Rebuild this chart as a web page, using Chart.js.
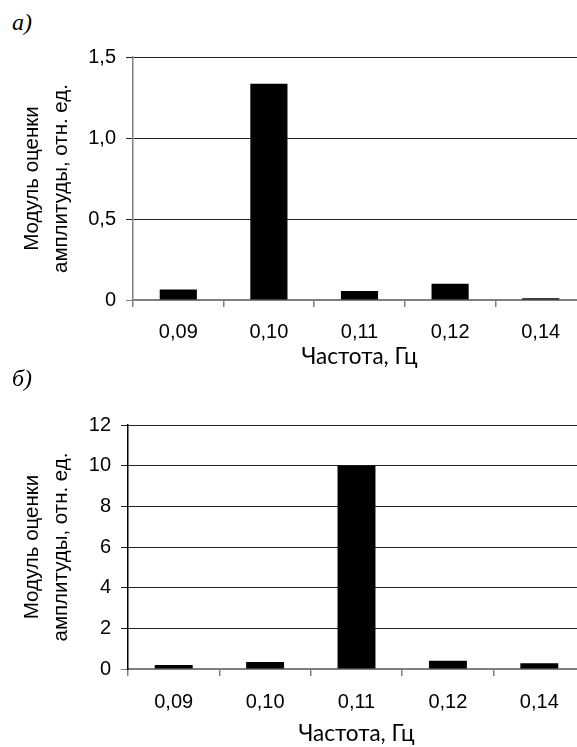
<!DOCTYPE html>
<html lang="ru">
<head>
<meta charset="utf-8">
<title>Модуль оценки амплитуды</title>
<script src="https://cdn.jsdelivr.net/npm/chart.js@4.4.1/dist/chart.umd.min.js"></script>
<style>
  html, body { margin: 0; padding: 0; background: #fff; overflow: hidden; }
  body { width: 577px; height: 747px; position: relative; }
  .panel { position: absolute; left: 0; width: 600px; }
  .tag {
    position: absolute; left: 12px;
    font: italic 24px "Liberation Serif", "DejaVu Serif", serif;
    color: #000;
  }
</style>
</head>
<body>
<div class="tag" style="top: 9px;">а)</div>
<div class="panel" style="top: 0; height: 375px;">
  <canvas id="chartA" width="600" height="375"></canvas>
</div>
<div class="tag" style="top: 365px;">б)</div>
<div class="panel" style="top: 375px; height: 372px;">
  <canvas id="chartB" width="600" height="372"></canvas>
</div>
<script>
// частоты и модуль оценки амплитуды для двух случаев
const freqLabels = ['0,09', '0,10', '0,11', '0,12', '0,14'];
const amplitudeA = [0.065, 1.335, 0.055, 0.10, 0.011];
const amplitudeB = [0.2, 0.34, 10.0, 0.41, 0.28];

const yTitle = ['Модуль оценки', 'амплитуды, отн. ед.'];
const xTitle = 'Частота, Гц';

const GRAY = '#808080';
const DARK = '#222';

const tickFont = { family: '"Liberation Sans", Arial, sans-serif', size: 20 };

const fmtComma = (v) => (v === 0 ? '0' : v.toFixed(1).replace('.', ','));

function makeChart(id, values, cfg) {
  return new Chart(document.getElementById(id), {
    type: 'bar',
    data: {
      labels: freqLabels,
      datasets: [{
        data: values,
        backgroundColor: '#000',
        borderWidth: 0,
        barPercentage: cfg.barPct,
        categoryPercentage: 1
      }]
    },
    options: {
      responsive: false,
      animation: false,
      devicePixelRatio: 1,
      layout: { padding: { top: cfg.padTop, right: cfg.padRight, left: 0, bottom: 0 } },
      plugins: { legend: { display: false }, tooltip: { enabled: false } },
      scales: {
        x: {
          afterFit: (scale) => { scale.height = cfg.xHeight; },
          border: { color: GRAY, width: 1.5 },
          grid: { drawOnChartArea: false, drawTicks: true, tickLength: 7, color: GRAY, lineWidth: 1.5 },
          ticks: { color: '#000', font: tickFont, padding: cfg.xTickPad },
          title: {
            display: true,
            text: xTitle,
            color: '#000',
            font: { family: 'Lato, "Open Sans", sans-serif', size: 22.5 },
            padding: { top: 0, bottom: cfg.xTitlePad }
          }
        },
        y: {
          min: 0,
          max: cfg.max,
          afterFit: (scale) => { scale.width = cfg.yWidth; },
          border: { color: cfg.yAxisColor, width: 1.5 },
          grid: {
            tickLength: 7,
            color: (ctx) => (ctx.tick && ctx.tick.value === 0 ? GRAY : DARK),
            lineWidth: 1
          },
          ticks: {
            stepSize: cfg.step,
            color: '#000',
            font: tickFont,
            padding: 10,
            callback: cfg.fmt
          },
          title: {
            display: true,
            text: yTitle,
            color: '#000',
            font: { family: '"Liberation Sans", Arial, sans-serif', size: 20.5, lineHeight: 1.42 },
            padding: { top: 18, bottom: 0 }
          }
        }
      }
    }
  });
}

makeChart('chartA', amplitudeA, {
  max: 1.5, step: 0.5, fmt: fmtComma,
  barPct: 0.41, padTop: 57, padRight: 14,
  xHeight: 75, yWidth: 133, xTickPad: 13, xTitlePad: 5,
  yAxisColor: GRAY
});

makeChart('chartB', amplitudeB, {
  max: 12, step: 2, fmt: (v) => String(v),
  barPct: 0.415, padTop: 50, padRight: 15,
  xHeight: 78, yWidth: 128, xTickPad: 14, xTitlePad: 0,
  yAxisColor: '#000'
});
</script>
</body>
</html>
